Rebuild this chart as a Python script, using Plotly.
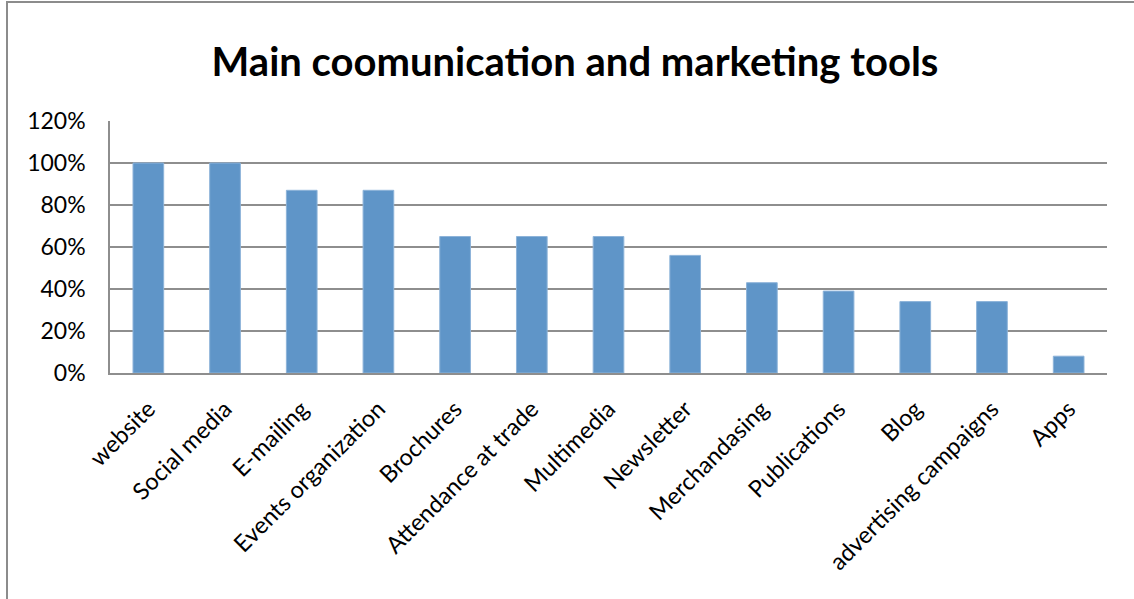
import plotly.graph_objects as go

categories = ["website", "Social media", "E-mailing", "Events organization", "Brochures",
              "Attendance at trade", "Multimedia", "Newsletter", "Merchandasing",
              "Publications", "Blog", "advertising campaigns", "Apps"]
shares = [1.00, 1.00, 0.87, 0.87, 0.65, 0.65, 0.65, 0.56, 0.43, 0.39, 0.34, 0.34, 0.08]
y_ticks = [0, 0.2, 0.4, 0.6, 0.8, 1.0, 1.2]
y_tick_labels = ["0%", "20%", "40%", "60%", "80%", "100%", "120%"]

W, H = 1134, 599
M_L, M_R, M_T, M_B = 110, 27, 121, 226
plot_w = W - M_L - M_R
plot_h = H - M_T - M_B

def px_to_paper_x(px):
    return (px - M_L) / plot_w

def px_to_paper_y(py):
    return (H - M_B - py) / plot_h

FONT = "Lato"
GRID = "#8E8E8E"

fig = go.Figure(go.Bar(
    x=categories, y=shares,
    marker=dict(color="#5F95C8", line=dict(color="#8DB3D9", width=1)),
    hoverinfo="x+y",
))

fig.update_layout(
    width=W, height=H,
    margin=dict(l=M_L, r=M_R, t=M_T, b=M_B, autoexpand=False),
    paper_bgcolor="white", plot_bgcolor="white",
    bargap=0.6,
    showlegend=False,
    title=dict(text="<b>Main coomunication and marketing tools</b>",
               x=575 / W, xanchor="center", xref="container",
               y=1 - 62 / H, yanchor="middle", yref="container",
               font=dict(family=FONT, size=40, color="black")),
    font=dict(family=FONT, size=23, color="black"),
    xaxis=dict(tickangle=-45, showgrid=False, showline=True, linecolor=GRID, linewidth=2,
               ticks="", ticklabelstandoff=11,
               tickfont=dict(size=23.5, family=FONT, color="black")),
    yaxis=dict(range=[0, 1.2], tickvals=y_ticks, ticktext=y_tick_labels,
               showgrid=True, gridcolor=GRID, gridwidth=1.5,
               showline=True, linecolor=GRID, linewidth=1.5, zeroline=False,
               ticks="", ticklen=0, ticklabelstandoff=18,
               tickfont=dict(size=23, family=FONT, color="black")),
)

# outer chart frame (top and left edges)
fig.add_shape(type="line", xref="paper", yref="paper",
              x0=px_to_paper_x(6), x1=px_to_paper_x(W + 5),
              y0=px_to_paper_y(2), y1=px_to_paper_y(2),
              line=dict(color="#8C8C8C", width=2))
fig.add_shape(type="line", xref="paper", yref="paper",
              x0=px_to_paper_x(7), x1=px_to_paper_x(7),
              y0=px_to_paper_y(2), y1=px_to_paper_y(H + 5),
              line=dict(color="#8C8C8C", width=2))

fig.write_html("out.html")
